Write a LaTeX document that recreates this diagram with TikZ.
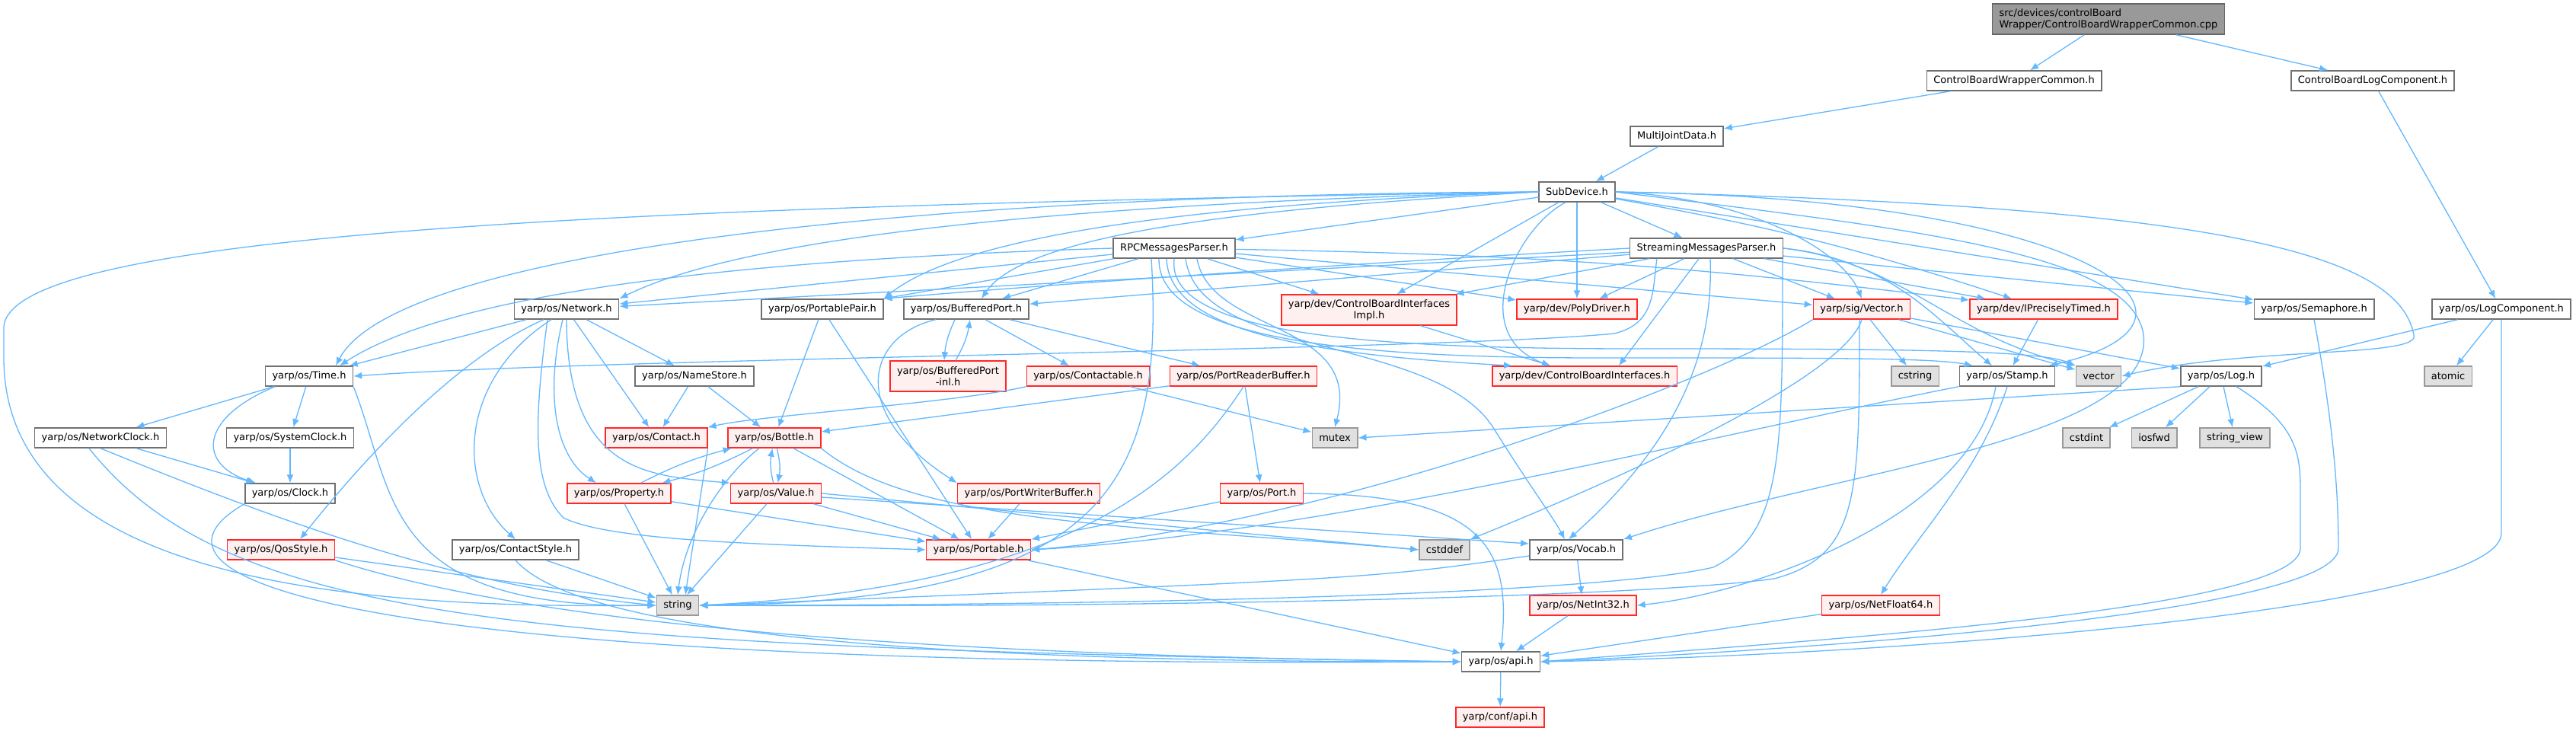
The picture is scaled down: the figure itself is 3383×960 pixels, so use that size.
\documentclass[tikz,border=0pt]{standalone}
\usepackage{fontspec}
\setmainfont{DejaVu Sans}
\usetikzlibrary{arrows.meta}
\definecolor{inclEdge}{RGB}{99,184,255}
\definecolor{hdrLine}{RGB}{112,112,112}
\definecolor{truncLine}{RGB}{255,40,40}
\definecolor{truncBg}{RGB}{255,240,240}
\definecolor{sysLine}{RGB}{153,153,153}
\definecolor{sysBg}{RGB}{224,224,224}
\definecolor{srcLine}{RGB}{102,102,102}
\definecolor{srcBg}{RGB}{153,153,153}

\begin{document}
\begin{tikzpicture}[
  x=1pt, y=-1pt,
  font=\fontsize{13}{15}\selectfont,
  >={Latex[length=11pt,width=9pt]},
  hdr/.style={draw=hdrLine,line width=1.5pt,fill=white,inner xsep=9pt,inner ysep=3pt,minimum height=26pt},
  trunc/.style={hdr,draw=truncLine,fill=truncBg},
  sys/.style={hdr,draw=sysLine,fill=sysBg},
  srcfile/.style={hdr,draw=srcLine,fill=srcBg,align=left,minimum height=40pt},
  twoline/.style={align=center,minimum height=40pt},
  incl/.style={->,draw=inclEdge,line width=1.3pt}
]

\path[use as bounding box,fill=white] (0,0) rectangle (3383,960);

\node[srcfile] (cpp) at (2769,25) {src/devices/controlBoard\\Wrapper/ControlBoardWrapperCommon.cpp};
\node[hdr] (cbwc) at (2645,106) {ControlBoardWrapperCommon.h};
\node[hdr] (cblc) at (3116,106) {ControlBoardLogComponent.h};
\node[hdr] (mjd) at (2202,179) {MultiJointData.h};
\node[hdr] (subdev) at (2071,252) {SubDevice.h};
\node[hdr] (rpc) at (1542,326) {RPCMessagesParser.h};
\node[hdr] (stream) at (2241,326) {StreamingMessagesParser.h};
\node[hdr] (network) at (744,406) {yarp/os/Network.h};
\node[hdr] (portpair) at (1080,406) {yarp/os/PortablePair.h};
\node[hdr] (bufport) at (1269,406) {yarp/os/BufferedPort.h};
\node[trunc,twoline] (cbiimpl) at (1798,407) {yarp/dev/ControlBoardInterfaces\\Impl.h};
\node[trunc] (polydrv) at (2071,406) {yarp/dev/PolyDriver.h};
\node[trunc] (vector) at (2445,406) {yarp/sig/Vector.h};
\node[trunc] (ptimed) at (2684,406) {yarp/dev/IPreciselyTimed.h};
\node[hdr] (semaph) at (3039,406) {yarp/os/Semaphore.h};
\node[hdr] (logcomp) at (3285,406) {yarp/os/LogComponent.h};
\node[hdr] (time) at (406,494) {yarp/os/Time.h};
\node[hdr] (namestore) at (912,494) {yarp/os/NameStore.h};
\node[trunc,twoline] (bpinl) at (1245,494) {yarp/os/BufferedPort\\-inl.h};
\node[trunc] (contactable) at (1429,494) {yarp/os/Contactable.h};
\node[trunc] (prb) at (1633,494) {yarp/os/PortReaderBuffer.h};
\node[trunc] (cbi) at (2081,494) {yarp/dev/ControlBoardInterfaces.h};
\node[sys] (cstring) at (2515,494) {cstring};
\node[hdr] (stamp) at (2636,494) {yarp/os/Stamp.h};
\node[sys] (vec) at (2756,494) {vector};
\node[hdr] (log) at (2917,494) {yarp/os/Log.h};
\node[sys] (atomic) at (3215,494) {atomic};
\node[hdr] (netclock) at (132,575) {yarp/os/NetworkClock.h};
\node[hdr] (sysclock) at (381,575) {yarp/os/SystemClock.h};
\node[trunc] (contact) at (862,575) {yarp/os/Contact.h};
\node[trunc] (bottle) at (1017,575) {yarp/os/Bottle.h};
\node[sys] (mutex) at (1753,575) {mutex};
\node[sys] (cstdint) at (2740,575) {cstdint};
\node[sys] (iosfwd) at (2829,575) {iosfwd};
\node[sys] (strview) at (2935,575) {string\_view};
\node[hdr] (clock) at (381,648) {yarp/os/Clock.h};
\node[trunc] (property) at (813,648) {yarp/os/Property.h};
\node[trunc] (value) at (1019,648) {yarp/os/Value.h};
\node[trunc] (pwb) at (1351,648) {yarp/os/PortWriterBuffer.h};
\node[trunc] (port) at (1657,648) {yarp/os/Port.h};
\node[trunc] (qos) at (369,722) {yarp/os/QosStyle.h};
\node[hdr] (contactstyle) at (677,722) {yarp/os/ContactStyle.h};
\node[trunc] (portable) at (1285,722) {yarp/os/Portable.h};
\node[sys] (cstddef) at (1897,722) {cstddef};
\node[hdr] (vocab) at (2070,722) {yarp/os/Vocab.h};
\node[sys] (string) at (890,795) {string};
\node[trunc] (netint) at (2079,795) {yarp/os/NetInt32.h};
\node[trunc] (netfloat) at (2470,795) {yarp/os/NetFloat64.h};
\node[hdr] (api) at (1971,869) {yarp/os/api.h};
\node[trunc] (confapi) at (1970,942) {yarp/conf/api.h};

\draw[incl] (cpp) -- (cbwc);
\draw[incl] (cpp) -- (cblc);
\draw[incl] (cbwc) -- (mjd);
\draw[incl] (cblc) -- (logcomp);
\draw[incl] (mjd) -- (subdev);

\draw[incl] (subdev) -- (rpc);
\draw[incl] (subdev) -- (stream);
\draw[incl] (subdev) -- (cbiimpl);
\draw[incl] (subdev) -- (polydrv);
\draw[incl] (subdev) to[bend left=4] (ptimed);
\draw[incl] (subdev) -- (semaph);
\draw[incl] (subdev.west) .. controls (1500,265) and (1000,300) .. (network.north east);
\draw[incl] (subdev.west) .. controls (1500,270) and (1250,320) .. (portpair.north east);
\draw[incl] (subdev.west) .. controls (1700,270) and (1350,300) .. ([xshift=20pt]bufport.north);
\draw[incl] (subdev.west) .. controls (1200,255) and (520,330) .. ([xshift=35pt]time.north);
\draw[incl] (subdev.east) .. controls (2300,260) and (2420,330) .. (vector.north);
\draw[incl] ([xshift=-15pt]subdev.south) .. controls (1990,300) and (1925,440) .. ([xshift=-45pt]cbi.north);
\draw[incl] (subdev.east) .. controls (2750,260) and (2950,420) .. ([xshift=55pt]stamp.north);
\draw[incl] (subdev.east) .. controls (2900,270) and (3150,330) .. (3170,440) .. controls (3180,470) and (2950,455) .. (vec.east);
\draw[incl] (subdev.east) .. controls (2500,300) and (2800,330) .. (2815,440) .. controls (2830,580) and (2400,620) .. (vocab.north east);
\draw[incl] (subdev.west) .. controls (900,270) and (10,300) .. (5,430) -- (5,470) .. controls (5,760) and (450,800) .. (string.west);

\draw[incl] (rpc) -- (network);
\draw[incl] (rpc) -- (portpair);
\draw[incl] (rpc) -- (bufport);
\draw[incl] (rpc) -- (cbiimpl);
\draw[incl] (rpc) -- (polydrv);
\draw[incl] (rpc) -- (vector);
\draw[incl] (rpc) to[bend left=3] (ptimed);
\draw[incl] (rpc.west) .. controls (1000,340) and (600,380) .. ([xshift=40pt]time.north);
\draw[incl] ([xshift=-10pt]rpc.south) .. controls (1535,430) and (1700,465) .. ([xshift=-95pt]cbi.north);
\draw[incl] ([xshift=30pt]rpc.south) .. controls (1590,440) and (1790,420) .. (mutex.north);
\draw[incl] ([xshift=15pt]rpc.south) .. controls (1575,470) and (1880,440) .. (1960,560) .. controls (2010,640) and (2040,680) .. ([xshift=-15pt]vocab.north);
\draw[incl] ([xshift=-30pt]rpc.south) .. controls (1530,640) and (1450,790) .. (string.east);
\draw[incl] ([xshift=-20pt]rpc.south) .. controls (1520,450) and (1800,470) .. (2100,470) .. controls (2400,470) and (2540,470) .. ([xshift=-45pt]stamp.north);
\draw[incl] (rpc.south) .. controls (1530,440) and (1800,458) .. (2150,458) .. controls (2500,458) and (2680,460) .. (vec.north west);

\draw[incl] (stream) -- (network);
\draw[incl] (stream.west) .. controls (1700,350) and (1300,380) .. (portpair.north east);
\draw[incl] (stream) -- (bufport);
\draw[incl] (stream) -- (cbiimpl);
\draw[incl] ([xshift=-10pt]stream.south) -- ([xshift=45pt]cbi.north);
\draw[incl] (stream) -- (polydrv);
\draw[incl] (stream) -- (vector);
\draw[incl] (stream) -- (ptimed);
\draw[incl] (stream) -- (semaph);
\draw[incl] ([xshift=-65pt]stream.south) .. controls (2170,380) and (2175,425) .. (2120,438) .. controls (1900,460) and (800,470) .. (time.east);
\draw[incl] (stream.east) .. controls (2480,340) and (2545,420) .. ([xshift=-20pt]stamp.north);
\draw[incl] (stream.east) .. controls (2500,345) and (2560,440) .. (vec.north west);
\draw[incl] ([xshift=5pt]stream.south) .. controls (2250,450) and (2215,570) .. ([xshift=-10pt]vocab.north);
\draw[incl] ([xshift=100pt]stream.south) .. controls (2341,600) and (2341,700) .. (2250,745) .. controls (2100,780) and (1500,795) .. (string.east);

\draw[incl] (network) -- (time);
\draw[incl] (network) -- (namestore);
\draw[incl] (network) -- (contact);
\draw[incl] ([xshift=-30pt]network.south) .. controls (600,470) and (480,600) .. ([xshift=25pt]qos.north);
\draw[incl] ([xshift=-20pt]network.south) .. controls (600,500) and (600,640) .. (contactstyle.north);
\draw[incl] ([xshift=-5pt]network.south) .. controls (715,520) and (730,600) .. ([xshift=-30pt]property.north);
\draw[incl] (network.south) .. controls (745,620) and (850,625) .. (value.north west);
\draw[incl] ([xshift=-25pt]network.south) .. controls (700,560) and (700,640) .. (740,680) .. controls (800,710) and (1000,715) .. (portable.west);

\draw[incl] (time) -- (netclock);
\draw[incl] (time) -- (sysclock);
\draw[incl] ([xshift=-45pt]time.south) .. controls (260,550) and (260,610) .. ([xshift=-45pt]clock.north);
\draw[incl] (time.south east) .. controls (520,650) and (500,800) .. (string.west);
\draw[incl] (netclock) -- (clock);
\draw[incl] (netclock.south) .. controls (380,690) and (600,770) .. (string.west);
\draw[incl] ([xshift=-15pt]netclock.south) .. controls (300,820) and (700,850) .. (api.west);
\draw[incl] (sysclock) -- (clock);
\draw[incl] (clock.south west) .. controls (150,760) and (450,880) .. (api.west);
\draw[incl] (qos) -- (string);
\draw[incl] (qos.south east) .. controls (700,820) and (1200,860) .. (api.west);
\draw[incl] (contactstyle) -- (string);
\draw[incl] (contactstyle.south) .. controls (760,830) and (1200,870) .. (api.west);

\draw[incl] (namestore) -- (contact);
\draw[incl] (namestore) -- (bottle);
\draw[incl] (contact.south east) -- ([xshift=10pt]string.north);
\draw[incl] (contactable.south west) .. controls (1250,530) and (1000,545) .. (contact.north east);
\draw[incl] (contactable) -- (mutex);

\draw[incl] (portpair) -- (bottle);
\draw[incl] (portpair) -- (portable);
\draw[incl] ([xshift=-15pt]bufport.south) to[bend right=10] ([xshift=-5pt]bpinl.north);
\draw[incl] ([xshift=10pt]bpinl.north) to[bend right=10] ([xshift=5pt]bufport.south);
\draw[incl] (bufport) -- (contactable);
\draw[incl] (bufport) -- (prb);
\draw[incl] ([xshift=-40pt]bufport.south) .. controls (1140,440) and (1110,540) .. (pwb.north west);
\draw[incl] (cbiimpl) -- (cbi);

\draw[incl] (vector) -- (cstring);
\draw[incl] (vector) -- (log);
\draw[incl] (vector) -- (vec);
\draw[incl] (vector.south west) .. controls (2250,500) and (1750,690) .. (portable.east);
\draw[incl] (vector.south) .. controls (2420,500) and (2100,640) .. (cstddef.north east);
\draw[incl] ([xshift=-3pt]vector.south) .. controls (2442,650) and (2442,730) .. (2330,760) .. controls (2150,785) and (1500,798) .. (string.east);

\draw[incl] (ptimed) -- (stamp);
\draw[incl] (semaph.south) .. controls (3065,560) and (3071,650) .. (3071,720) .. controls (3071,800) and (2450,850) .. (api.east);
\draw[incl] (logcomp) -- (log);
\draw[incl] (logcomp) -- (atomic);
\draw[incl] (logcomp.south) -- (3285,700) .. controls (3285,800) and (2500,860) .. (api.east);
\draw[incl] (log) -- (cstdint);
\draw[incl] (log) -- (iosfwd);
\draw[incl] (log) -- (strview);
\draw[incl] (log.south west) -- (mutex.east);
\draw[incl] ([xshift=20pt]log.south) .. controls (3021,560) and (3021,600) .. (3021,650) -- (3021,720) .. controls (3021,800) and (2400,840) .. (api.east);

\draw[incl] (stamp.south west) .. controls (2300,560) and (1750,700) .. (portable.east);
\draw[incl] (stamp.south) .. controls (2600,620) and (2520,700) .. (netfloat.north);
\draw[incl] ([xshift=-15pt]stamp.south) .. controls (2590,680) and (2300,780) .. (netint.east);

\draw[incl] (prb) -- (bottle);
\draw[incl] (prb) -- (port);
\draw[incl] (prb.south) .. controls (1560,620) and (1420,770) .. (string.east);

\draw[incl] (bottle) to[bend left=6] (property);
\draw[incl] (property) to[bend left=6] (bottle);
\draw[incl] (bottle) to[bend left=12] (value);
\draw[incl] (value) to[bend left=12] (bottle);
\draw[incl] (bottle) -- (portable);
\draw[incl] ([xshift=-20pt]bottle.south) .. controls (950,625) and (900,700) .. (string.north);
\draw[incl] (bottle.south east) .. controls (1200,690) and (1500,690) .. (cstddef.west);
\draw[incl] (property) -- (portable);
\draw[incl] (property) -- (string);
\draw[incl] (value) -- (portable);
\draw[incl] (value) -- (string);
\draw[incl] ([yshift=-5pt]value.east) -- ([yshift=8pt]vocab.west);
\draw[incl] (value.east) -- (cstddef.west);
\draw[incl] (pwb) -- (portable);
\draw[incl] (port) -- (portable);
\draw[incl] (port.east) .. controls (1950,650) and (1985,720) .. (api.north);
\draw[incl] (portable) -- (api);
\draw[incl] (vocab) -- (netint);
\draw[incl] ([yshift=-8pt]vocab.west) .. controls (1800,760) .. (string.east);
\draw[incl] (netint) -- (api);
\draw[incl] (netfloat) -- (api);
\draw[incl] (api) -- (confapi);

\end{tikzpicture}
\end{document}
